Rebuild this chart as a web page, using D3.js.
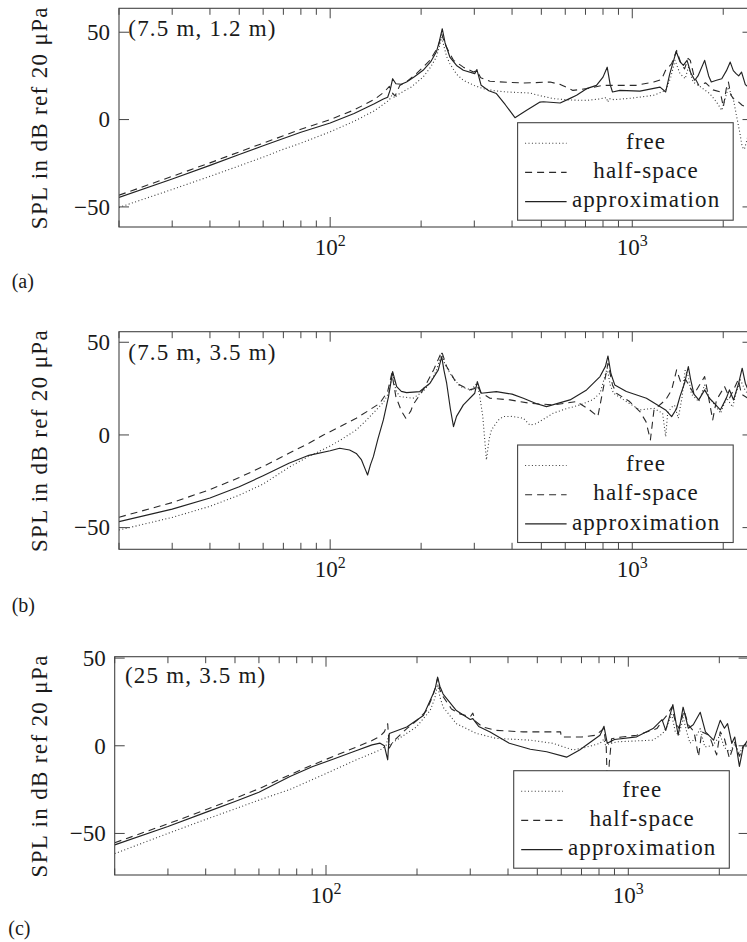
<!DOCTYPE html>
<html><head><meta charset="utf-8">
<script src="https://cdn.jsdelivr.net/npm/d3@7"></script>
<style>
body{margin:0;background:#fff}
</style>
</head><body>
<svg id="chart" width="747" height="942" xmlns="http://www.w3.org/2000/svg"></svg>
<script>
// ---------- data: [frequency Hz, SPL dB] ----------
const seriesNames = ["free", "half-space", "approximation"];
const panelLabels = ["(a)", "(b)", "(c)"];
const panelTitles = ["(7.5 m, 1.2 m)", "(7.5 m, 3.5 m)", "(25 m, 3.5 m)"];
const yLabel = "SPL in dB ref 20 \u03bcPa";
const xMajorTicks = [100, 1000];
const xMajorLabels = [["10","2"], ["10","3"]];
const xMinorTicks = [20,30,40,50,60,70,80,90,200,300,400,500,600,700,800,900,2000];
const yTicks = [-50, 0, 50];
const yTickLabels = ["\u221250", "0", "50"];
const freqDomain = [20, 2500];
const yDomainA = [-61.5, 63.7];
const yDomainB = [-61.7, 55.7];
const yDomainC = [-73.7, 50.8];

const A_free = [[20,-50.3],[30,-40],[40,-32.5],[50,-26.5],[60,-21.5],[70,-17],[80,-13.5],[100,-7],[120,-1],[140,5],[155,10.5],[158,12],[161,15],[163,12.5],[170,15],[185,18.5],[203,24.3],[215,30],[225,36],[230,42],[234,47.2],[238,42],[243,36],[249,32],[262,26],[276,22.5],[300,19.5],[321,17.7],[350,16.5],[384,15.8],[458,15.2],[500,13.5],[547,12],[620,11.2],[706,11],[780,11.8],[821,12.6],[830,10],[840,12],[870,11.4],[1000,12.3],[1177,13.9],[1290,16.7],[1340,24],[1385,33.9],[1438,26.3],[1497,23.4],[1533,30],[1591,21.5],[1685,18.6],[1804,14.9],[1901,10],[1978,5.3],[2081,18.6],[2164,11],[2272,-8],[2311,-15.6],[2350,-17],[2500,0]];
const A_half = [[20,-43.3],[30,-32.5],[40,-24.8],[50,-18.5],[60,-13.5],[70,-9.3],[80,-5.5],[100,0],[120,5.5],[140,11.5],[151,15.8],[157,19],[161,15],[164,13.5],[170,19.5],[180,22],[193,26.3],[214,33.9],[228,42],[234,49],[240,43],[256,33.9],[276,30],[298,27.2],[306,28],[315,24],[338,21.9],[436,20.9],[535,21.5],[580,20],[636,16.7],[706,17.7],[800,19.6],[844,19.6],[1030,19.6],[1178,21.5],[1250,23],[1289,28.2],[1350,32],[1402,39.6],[1450,32],[1490,29],[1530,35],[1556,33.9],[1600,25],[1660,19.6],[1750,21],[1850,17],[1956,15.8],[2002,7.2],[2047,17.7],[2081,21.5],[2120,14],[2164,12],[2250,10],[2311,8.2],[2400,7],[2500,10]];
const A_approx = [[20,-44.6],[30,-34],[40,-26.2],[50,-20],[60,-15],[70,-10.8],[80,-7.3],[100,-2],[120,3.5],[140,9],[150,11.8],[155,12.8],[158,17],[161,23.4],[165,20.5],[172,20.2],[179,21.5],[190,24.5],[203,28.2],[215,33],[225,39],[230,45],[235,52],[240,44],[249,35.8],[262,31],[276,28.2],[301,26.3],[306,28.6],[316,19.6],[335,16.5],[355,14.9],[380,8.5],[409,1.1],[430,3.5],[447,5.3],[495,10],[508,10.2],[577,9.5],[620,12],[654,13.9],[706,17.7],[761,19.6],[800,24.3],[826,30],[845,20],[860,15.8],[910,16.7],[1060,16.3],[1236,18.6],[1290,15.8],[1330,26],[1398,39],[1440,33],[1476,31],[1518,33.9],[1560,27],[1610,22.5],[1650,25],[1736,33.9],[1790,25],[1826,21.5],[1900,22.5],[1978,23.4],[2050,28],[2110,32.9],[2160,28],[2206,26.3],[2250,25],[2300,27.2],[2367,20],[2450,18],[2500,20]];

const B_free = [[20,-51.3],[30,-44.5],[40,-38.5],[50,-32.5],[60,-26.5],[73,-17.5],[85,-11.5],[100,-6],[110,-2],[122,2.7],[132,8],[142,13.5],[150,17.5],[156,22.5],[161,33.3],[165,24],[170,20.7],[188,19.8],[203,23.4],[215,28.5],[225,35],[234,44.1],[240,38],[249,33.3],[269,26.1],[293,24.3],[306,28],[312,22],[320,10],[329,-13.5],[336,-2],[342,2.7],[360,8],[374,9.9],[400,10],[436,9],[458,5.4],[480,6],[547,11.7],[600,14],[672,16.2],[740,19],[782,22.5],[826,36],[845,27],[867,22.5],[956,18],[1060,13.5],[1177,14.4],[1260,11.7],[1290,-0.9],[1310,12],[1350,15],[1380,16],[1420,9],[1460,20],[1497,35.1],[1530,32],[1570,22],[1660,18],[1736,27],[1800,20],[1900,15],[1960,11.7],[2050,20],[2150,15],[2200,22],[2280,29.7],[2350,25],[2450,20],[2500,22]];
const B_half = [[20,-44.4],[30,-36.5],[40,-29.5],[50,-23],[60,-17],[73,-9.9],[85,-4.5],[95,0],[108,4.5],[122,9],[135,13.5],[146,17.1],[155,23.4],[160,33.3],[165,20.7],[172,13],[178,9],[185,13],[188,16.2],[203,24.3],[220,35.1],[234,45],[243,36.9],[262,27.9],[289,24.3],[300,25],[306,27],[315,23],[338,19.8],[394,18.9],[458,17.1],[547,16.2],[654,18],[723,13.5],[769,9.9],[800,24.3],[831,38.7],[860,27],[886,22.5],[980,18],[1060,12.6],[1110,7.2],[1148,-2.7],[1180,13.5],[1289,18.9],[1350,24.3],[1402,35.1],[1450,28],[1500,30],[1550,26.1],[1600,22],[1736,31.5],[1790,20],[1846,8.1],[1900,18.9],[2020,26.1],[2100,20],[2242,29.7],[2300,22],[2400,20],[2500,25]];
const B_approx = [[20,-46.8],[30,-40],[40,-34],[50,-28],[60,-22],[73,-15.3],[85,-11],[100,-8.5],[107.5,-7.2],[116,-8.1],[122,-10],[127,-13.5],[131,-19],[133,-21.6],[136,-16],[139,-11.7],[144,-2],[150,8.1],[156,20.7],[161,34.2],[166,26.1],[172,23.5],[179,22.8],[198,23.4],[214,27.9],[228,35.1],[234,42.3],[238,35],[243,27.9],[250,14],[256,4.5],[262,10],[276,16.2],[301,22.5],[307,28.8],[316,22.5],[355,23.4],[400,22],[436,19.8],[480,17],[520,15.3],[622,18.9],[706,24.3],[782,31.5],[815,37],[831,42.6],[850,33],[875,27],[956,23.4],[1114,19.8],[1289,13.5],[1350,9.9],[1400,14],[1438,20.7],[1490,28],[1533,36.9],[1560,30],[1600,22],[1660,18.9],[1736,24.3],[1800,19.8],[1870,17],[1956,13.5],[2050,20],[2097,24.3],[2164,18.9],[2250,28],[2311,36],[2367,27.9],[2450,22],[2500,25]];

const C_free = [[20,-61.5],[30,-50],[40,-42],[50,-36],[60,-31],[76,-24.9],[98,-16.5],[126,-8],[151,-2.4],[158,0],[160,4],[162,0.5],[171,3.2],[199,10.7],[221,20.1],[229,27],[234,35.1],[238,28],[244,22],[270,12.6],[315,7],[366,4.2],[474,3.2],[563,1.4],[656,-2.4],[720,-1],[806,1.4],[830,3.8],[840,0.5],[922,2.3],[1207,3.2],[1300,7],[1340,10.7],[1391,18],[1430,8],[1470,6],[1520,16],[1560,8],[1600,1.4],[1660,4],[1730,9.8],[1790,-0.6],[1900,0],[2014,6],[2080,-1],[2164,-3.4],[2250,1],[2330,-4],[2400,-1],[2500,0]];
const C_half = [[20,-55.3],[30,-44.5],[40,-36.5],[50,-30],[60,-24.5],[76,-16.5],[90,-11],[106,-6],[125,-1],[142,3],[151,5.5],[156,8],[160,12.6],[162,-1.3],[166,2],[171,4.2],[185,9.8],[200,14.5],[215,20],[225,28],[230,33],[234,38.5],[238,32],[244,28],[260,21],[277,18.2],[300,16.5],[306,18.6],[312,14],[330,10.7],[366,8.8],[449,7.9],[563,7.9],[597,7.9],[600,5],[700,5],[780,6],[829,9.8],[845,0],[855,-30],[865,-10],[880,4],[950,5],[1066,6],[1243,9.8],[1300,14.5],[1350,18],[1391,22],[1430,14],[1470,10],[1530,20],[1580,12],[1650,8],[1707,-6.2],[1750,8],[1850,6],[1960,-5.2],[2014,8],[2080,4],[2160,-7.1],[2250,2],[2331,-6],[2400,0],[2500,2]];
const C_approx = [[20,-56.5],[30,-46],[40,-38],[50,-31.8],[60,-26.5],[76,-17.5],[90,-12],[106,-7.5],[125,-3],[142,0.5],[151,1.5],[156,0],[160,-8],[162,7],[167,7.9],[185,10.7],[210,17.3],[226,29.5],[230,33],[234,39.2],[238,34],[244,29.5],[270,20.1],[300,15],[306,15.5],[320,11],[349,7.9],[404,1.4],[474,-2],[537,-3.4],[625,-6.5],[690,-2.4],[806,6],[831,11.1],[852,1.4],[900,3.6],[1066,5.1],[1207,9.8],[1293,14.9],[1330,8.8],[1404,23.5],[1462,6],[1518,22],[1580,10],[1640,12],[1730,19.1],[1800,7.9],[1915,3.2],[2014,14.5],[2080,10],[2130,12.6],[2200,1.4],[2250,5],[2331,-11.8],[2400,-0.6],[2500,4]];

// ---------- layout (not data) ----------
const panels = [
  {left:119, right:752.5, top:8.3, bottom:227, yDomain:yDomainA, data:[A_free,A_half,A_approx], titleDx:9.3, titleDy:27.7, labelX:11.7, labelY:288},
  {left:119, right:752.5, top:331.7, bottom:549.3, yDomain:yDomainB, data:[B_free,B_half,B_approx], titleDx:9.3, titleDy:28.3, labelX:11.7, labelY:612},
  {left:114.7, right:748.6, top:656.7, bottom:875, yDomain:yDomainC, data:[C_free,C_half,C_approx], titleDx:10.3, titleDy:26.7, labelX:8.3, labelY:935}
];
const styles = [
  {dash:"1,2.4", width:1.1, color:"#3a3a3a"},
  {dash:"7,5", width:1.1, color:"#2a2a2a"},
  {dash:null, width:1.15, color:"#222"}
];
const axisColor = "#444";
const fs = 23;
const FONT = "'Liberation Serif', 'DejaVu Serif', serif";

const svg = d3.select("#chart").attr("font-family", FONT);
svg.append("rect").attr("width",747).attr("height",942).attr("fill","#fff");

function txt(sel) { return sel.append("text").attr("font-family", FONT).attr("fill", "#1a1a1a"); }

panels.forEach((p, i) => {
  const x = d3.scaleLog().domain(freqDomain).range([p.left, p.right]);
  const y = d3.scaleLinear().domain(p.yDomain).range([p.bottom, p.top]);
  const g = svg.append("g");
  const clipId = "clip" + i;
  svg.append("clipPath").attr("id", clipId).append("rect")
    .attr("x", p.left).attr("y", p.top).attr("width", p.right - p.left).attr("height", p.bottom - p.top);

  const line = d3.line().x(d => x(d[0])).y(d => y(d[1]));
  const lg = g.append("g").attr("clip-path", `url(#${clipId})`);
  p.data.forEach((s, k) => {
    lg.append("path").attr("d", line(s)).attr("fill","none")
      .attr("stroke", styles[k].color).attr("stroke-width", styles[k].width)
      .attr("stroke-dasharray", styles[k].dash).attr("stroke-linejoin","round");
  });

  g.append("rect").attr("x", p.left).attr("y", p.top)
    .attr("width", p.right - p.left).attr("height", p.bottom - p.top)
    .attr("fill","none").attr("stroke", axisColor).attr("stroke-width", 1.1);

  const tk = g.append("g").attr("stroke", axisColor).attr("stroke-width", 1);
  xMajorTicks.forEach(f => {
    tk.append("line").attr("x1", x(f)).attr("x2", x(f)).attr("y1", p.bottom).attr("y2", p.bottom - 10);
    tk.append("line").attr("x1", x(f)).attr("x2", x(f)).attr("y1", p.top).attr("y2", p.top + 10);
  });
  xMinorTicks.forEach(f => {
    tk.append("line").attr("x1", x(f)).attr("x2", x(f)).attr("y1", p.bottom).attr("y2", p.bottom - 6.5);
    tk.append("line").attr("x1", x(f)).attr("x2", x(f)).attr("y1", p.top).attr("y2", p.top + 6.5);
  });
  yTicks.forEach(v => {
    tk.append("line").attr("x1", p.left).attr("x2", p.left + 10).attr("y1", y(v)).attr("y2", y(v));
    tk.append("line").attr("x1", p.right).attr("x2", p.right - 10).attr("y1", y(v)).attr("y2", y(v));
  });

  yTicks.forEach((v, k) => {
    txt(g).attr("x", p.left - 9).attr("y", y(v)).attr("dy", "0.34em")
      .attr("text-anchor","end").attr("font-size", fs).text(yTickLabels[k]);
  });
  xMajorTicks.forEach((f, k) => {
    const t = txt(g).attr("x", x(f)).attr("y", p.bottom + 28)
      .attr("text-anchor","middle").attr("font-size", fs);
    t.append("tspan").text(xMajorLabels[k][0]);
    t.append("tspan").attr("font-size", 16).attr("dy", -9).text(xMajorLabels[k][1]);
  });

  txt(g).attr("transform", `translate(46.5,${(p.top + p.bottom)/2}) rotate(-90)`)
    .attr("text-anchor","middle").attr("font-size", fs).attr("letter-spacing", 1.35).text(yLabel);

  txt(g).attr("x", p.left + p.titleDx).attr("y", p.top + p.titleDy)
    .attr("font-size", fs).attr("letter-spacing", 1.2).text(panelTitles[i]);

  txt(g).attr("x", p.labelX).attr("y", p.labelY).attr("font-size", 20).text(panelLabels[i]);

  const lw = 215.6, lh = 97.5;
  const lx = p.right - 19.3 - lw, ly = p.bottom - 6.8 - lh;
  const leg = g.append("g");
  leg.append("rect").attr("x", lx).attr("y", ly).attr("width", lw).attr("height", lh)
    .attr("fill","#fff").attr("stroke", axisColor).attr("stroke-width", 1.1);
  seriesNames.forEach((name, k) => {
    const ry = ly + 20.5 + k * 29.2;
    leg.append("line").attr("x1", lx + 7.5).attr("x2", lx + 49).attr("y1", ry).attr("y2", ry)
      .attr("stroke", styles[k].color).attr("stroke-width", styles[k].width)
      .attr("stroke-dasharray", styles[k].dash);
    txt(leg).attr("x", lx + 128.5).attr("y", ry + 5.6).attr("text-anchor","middle")
      .attr("font-size", fs).attr("letter-spacing", 1.1).text(name);
  });
});
</script>
</body></html>
